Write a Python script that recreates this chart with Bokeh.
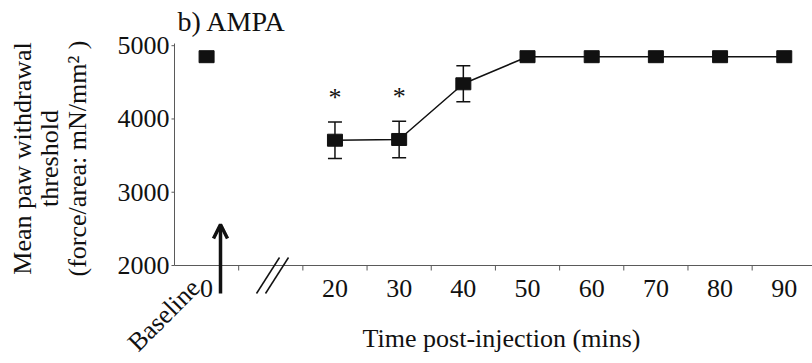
import math

from bokeh.core.properties import value
from bokeh.embed import file_html
from bokeh.models import (Arrow, ColumnDataSource, FixedTicker, Label, OpenHead,
                          Range1d, TeeHead, Whisker)
from bokeh.plotting import figure
from bokeh.resources import INLINE

# ---- data -------------------------------------------------------------
time_labels = ["0", "20", "30", "40", "50", "60", "70", "80", "90"]
mean_threshold = [4850, 3710, 3720, 4480, 4850, 4850, 4850, 4850, 4850]
sem_threshold = [0, 250, 250, 245, 0, 0, 0, 0, 0]
significant = [False, True, True, False, False, False, False, False, False]
y_tick_values = [2000, 3000, 4000, 5000]

# slot 0 is the baseline, slot 1 holds the axis break, post-injection from slot 2
slots = [0] + list(range(2, 2 + len(time_labels) - 1))
slot_edges = [s + 0.5 for s in range(0, 9)]

FONT = "Liberation Serif"
INK = "#111111"
AXIS_GREY = "#5a5a5a"

W, H = 812, 363
# axis extents in data units and where the axes sit on the canvas
AX_X0, AX_X1 = -0.5, 9.44
AX_Y0, AX_Y1 = 2000, 5030
ORIGIN_PX, ORIGIN_PY, TOP_PY = 174, 265, 43

KX = (W - ORIGIN_PX) / (AX_X1 - AX_X0)
KY = (ORIGIN_PY - TOP_PY) / (AX_Y1 - AX_Y0)
VX0 = AX_X0 - ORIGIN_PX / KX
VY1 = AX_Y0 + ORIGIN_PY / KY
VY0 = AX_Y0 - (H - ORIGIN_PY) / KY


def cx(px):
    return VX0 + px / KX


def cy(py):
    return VY1 - py / KY


# the frame fills the canvas so that labels beside the axes are not clipped
p = figure(width=W, height=H, x_range=Range1d(VX0, AX_X1), y_range=Range1d(VY0, VY1),
           output_backend="svg", toolbar_location=None,
           min_border=0, min_border_left=0, min_border_right=0,
           min_border_top=0, min_border_bottom=0)
p.grid.visible = False
p.outline_line_color = None
p.background_fill_color = "white"
p.border_fill_color = "white"

# ---- axes ---------------------------------------------------------------
xa = p.xaxis[0]
xa.fixed_location = AX_Y0
xa.bounds = (AX_X0, AX_X1)
xa.ticker = FixedTicker(ticks=slots)
xa.major_label_overrides = {s: lab for s, lab in zip(slots, time_labels)}
xa.major_tick_out = 0
xa.major_tick_in = 0
xa.minor_tick_out = 0
xa.minor_tick_in = 0
xa.axis_line_color = AXIS_GREY
xa.major_label_standoff = 14
xa.major_label_text_font = FONT
xa.major_label_text_font_size = "26px"
xa.major_label_text_color = INK

ya = p.yaxis[0]
ya.fixed_location = AX_X0
ya.bounds = (AX_Y0, AX_Y1)
ya.ticker = FixedTicker(ticks=y_tick_values)
ya.major_tick_out = 0
ya.major_tick_in = 0
ya.minor_tick_out = 0
ya.minor_tick_in = 0
ya.axis_line_color = AXIS_GREY
ya.major_label_standoff = 5
ya.major_label_text_font = FONT
ya.major_label_text_font_size = "26px"
ya.major_label_text_color = INK

# short outward tick marks: between time slots on x, at each value on y
X_TICK_LEN, Y_TICK_LEN = 5 / KY, 3 / KX
p.segment(x0=slot_edges, y0=[AX_Y0] * len(slot_edges),
          x1=slot_edges, y1=[AX_Y0 - X_TICK_LEN] * len(slot_edges),
          line_color=AXIS_GREY, line_width=1)
p.segment(x0=[AX_X0] * len(y_tick_values), y0=y_tick_values,
          x1=[AX_X0 - Y_TICK_LEN] * len(y_tick_values), y1=y_tick_values,
          line_color=AXIS_GREY, line_width=1)

# ---- data marks -------------------------------------------------------
src = ColumnDataSource(dict(x=slots, y=mean_threshold))
post = ColumnDataSource(dict(x=slots[1:], y=mean_threshold[1:]))

p.line("x", "y", source=post, line_color=INK, line_width=1.5)

err_idx = [i for i, s in enumerate(sem_threshold) if s > 0]
err = ColumnDataSource(dict(
    x=[slots[i] for i in err_idx],
    upper=[mean_threshold[i] + sem_threshold[i] for i in err_idx],
    lower=[mean_threshold[i] - sem_threshold[i] for i in err_idx],
))
p.add_layout(Whisker(source=err, base="x", upper="upper", lower="lower",
                     line_color=INK, line_width=1.5,
                     upper_head=TeeHead(size=14, line_color=INK, line_width=1.5),
                     lower_head=TeeHead(size=14, line_color=INK, line_width=1.5)))

p.rect("x", "y", source=src, width=15, height=12, width_units="screen",
       height_units="screen", fill_color=INK, line_color=INK)

star = ColumnDataSource(dict(
    x=[slots[i] for i, s in enumerate(significant) if s],
    y=[mean_threshold[i] + sem_threshold[i] + 330 for i, s in enumerate(significant) if s],
))
p.text("x", "y", text=value("*"), source=star, text_font=value(FONT),
       text_font_size="26px", text_color=INK, text_align="center",
       text_baseline="middle")

# ---- annotations ------------------------------------------------------
# injection arrow at the baseline slot
p.add_layout(Arrow(x_start=cx(220), y_start=cy(293), x_end=cx(220), y_end=cy(224),
                   line_color=INK, line_width=3.5,
                   end=OpenHead(size=14, line_color=INK, line_width=3.5)))

# axis break marks
for dx in (0, 9):
    p.add_layout(Arrow(x_start=cx(256 + dx), y_start=cy(293),
                       x_end=cx(279 + dx), y_end=cy(257),
                       line_color=INK, line_width=1.5, end=None))

p.add_layout(Label(x=cx(195), y=cy(283), text="Baseline", angle=math.pi / 4,
                   text_font=FONT, text_font_size="26px", text_color=INK,
                   text_align="right", text_baseline="middle"))

p.add_layout(Label(x=cx(177), y=cy(21), text="b) AMPA",
                   text_font=FONT, text_font_size="28px", text_color=INK,
                   text_align="left", text_baseline="middle"))

p.add_layout(Label(x=cx(501), y=cy(338), text="Time post-injection (mins)",
                   text_font=FONT, text_font_size="26px", text_color=INK,
                   text_align="center", text_baseline="middle"))

for px, line in zip((22, 49, 77), ("Mean paw withdrawal", "threshold",
                                   "(force/area: mN/mm\u00b2 )")):
    p.add_layout(Label(x=cx(px), y=cy(158), text=line, angle=math.pi / 2,
                       text_font=FONT, text_font_size="26px", text_color=INK,
                       text_align="center", text_baseline="middle"))

open("out.html", "w").write(file_html(p, INLINE))
